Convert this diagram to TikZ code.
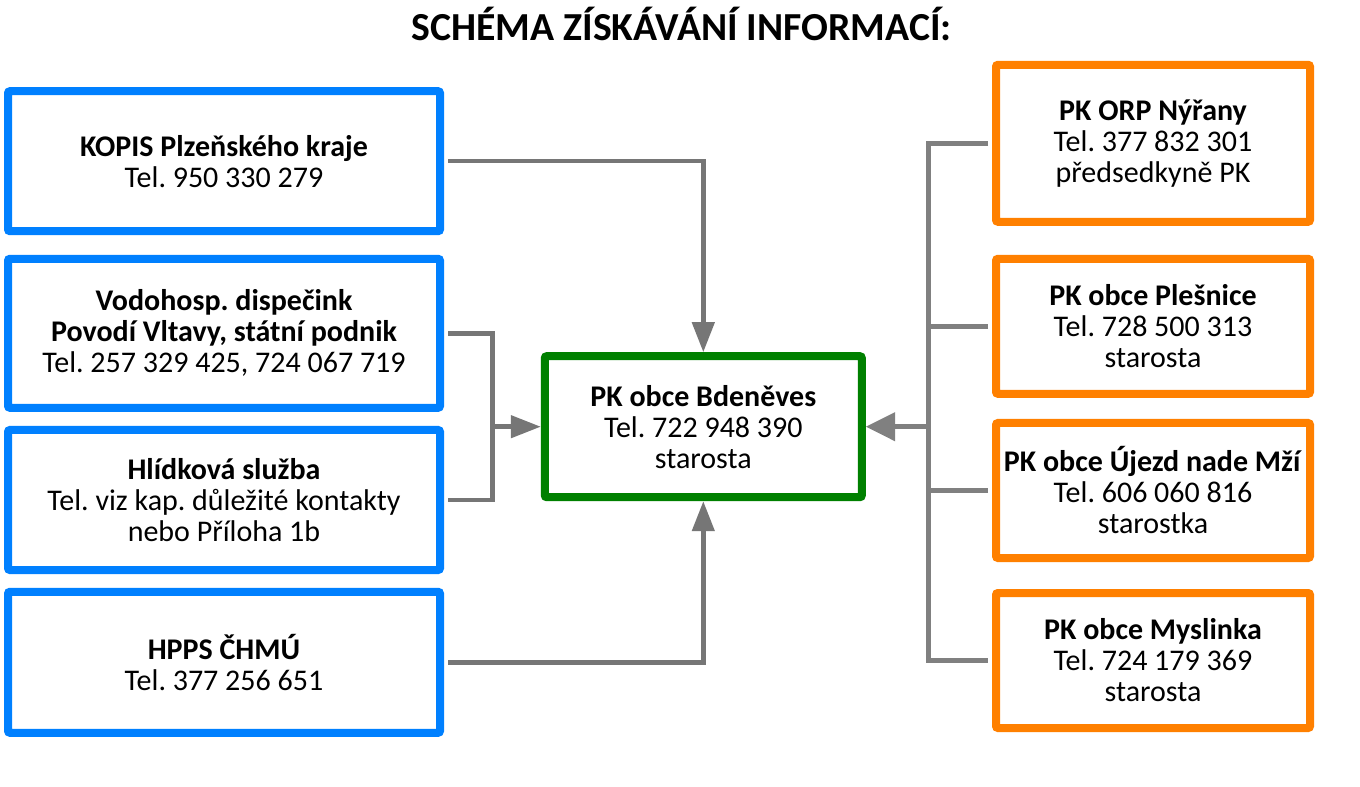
\documentclass[tikz,border=0pt]{standalone}
\usepackage{fontspec}
\setmainfont{Carlito}
\usetikzlibrary{arrows.meta}
\pgfdeclarelayer{bg}
\pgfsetlayers{bg,main}
\definecolor{myblue}{RGB}{0,128,255}
\definecolor{myorange}{RGB}{255,128,0}
\definecolor{mygreen}{RGB}{0,128,0}
\definecolor{lgray}{RGB}{118,118,118}
\definecolor{rgray}{RGB}{128,128,128}
\frenchspacing
\begin{document}
\begin{tikzpicture}[x=0.75pt,y=-0.75pt,
  box/.style={draw, line width=6pt, rounded corners=1.5pt, fill=white, inner sep=0pt,
    align=center, font=\fontsize{22.5}{23.25}\selectfont},
  lbox/.style={box, draw=myblue, minimum width=432*0.75pt},
  rbox/.style={box, draw=myorange, minimum width=314*0.75pt},
  gbox/.style={box, draw=mygreen, minimum width=317*0.75pt},
  conn/.style={draw=lgray, line width=3.4pt},
  connr/.style={draw=rgray, line width=3.4pt},
  arr/.style={conn, -{Triangle[length=22.5pt,width=16.5pt]}},
  arrr/.style={connr, -{Triangle[length=22pt,width=21pt]}}
]
\begin{pgfonlayer}{bg}
\fill[white] (0,0) rectangle (1360,787);
\end{pgfonlayer}
\useasboundingbox (0,0) rectangle (1360,787);

\node[font=\fontsize{29.8}{32}\selectfont\bfseries, anchor=base] (title) at (681.6,41) {SCHÉMA ZÍSKÁVÁNÍ INFORMACÍ:};

% left boxes
\node[lbox, minimum height=140*0.75pt] (kopis) at (224,161.2)
  {\textbf{KOPIS Plzeňského kraje}\\Tel. 950 330 279};
\node[lbox, minimum height=149*0.75pt] (vodo) at (224,333.3)
  {\textbf{Vodohosp. dispečink}\\\textbf{Povodí Vltavy, státní podnik}\\Tel. 257 329 425, 724 067 719};
\node[lbox, minimum height=140*0.75pt] (hlid) at (224,500)
  {\textbf{Hlídková služba}\\Tel. viz kap. důležité kontakty\\nebo Příloha 1b};
\node[lbox, minimum height=141*0.75pt] (hpps) at (224,662.3)
  {\textbf{HPPS ČHMÚ}\\Tel. 377 256 651};

% center box
\node[gbox, minimum height=141*0.75pt] (green) at (703.3,426.7)
  {\textbf{PK obce Bdeněves}\\Tel. 722 948 390\\starosta};

% right boxes
\node[rbox, minimum height=157*0.75pt] (orp) at (1153,143.3)
  {\textbf{PK ORP Nýřany}\\Tel. 377 832 301\\předsedkyně PK};
\node[rbox, minimum height=135*0.75pt] (ples) at (1153,326.3)
  {\textbf{PK obce Plešnice}\\Tel. 728 500 313\\starosta};
\node[rbox, minimum height=135*0.75pt] (ujezd) at (1153,490.5)
  {\textbf{PK obce Újezd nade Mží}\\Tel. 606 060 816\\starostka};
\node[rbox, minimum height=135*0.75pt] (mysl) at (1153,660.5)
  {\textbf{PK obce Myslinka}\\Tel. 724 179 369\\starosta};

\coordinate (j1) at (492.6,426.7);
\coordinate (j2) at (928.3,426.7);

% left connectors
\draw[arr, shorten <=3pt] (kopis.east) -| (green.north);
\draw[arr, shorten <=3pt] (hpps.east) -| (green.south);
\draw[conn, shorten <=3pt, shorten >=3pt] (vodo.east) -- (vodo.east -| j1) -- (hlid.east -| j1) -- (hlid.east);
\draw[arr] (j1) -- (green.west);

% right connectors
\draw[connr, shorten <=3pt, shorten >=3pt] (orp.west) -- (orp.west -| j2) -- (mysl.west -| j2) -- (mysl.west);
\draw[connr, shorten <=3pt] (ples.west) -- (ples.west -| j2);
\draw[connr, shorten <=3pt] (ujezd.west) -- (ujezd.west -| j2);
\draw[arrr] (j2) -- (green.east);
\end{tikzpicture}
\end{document}
